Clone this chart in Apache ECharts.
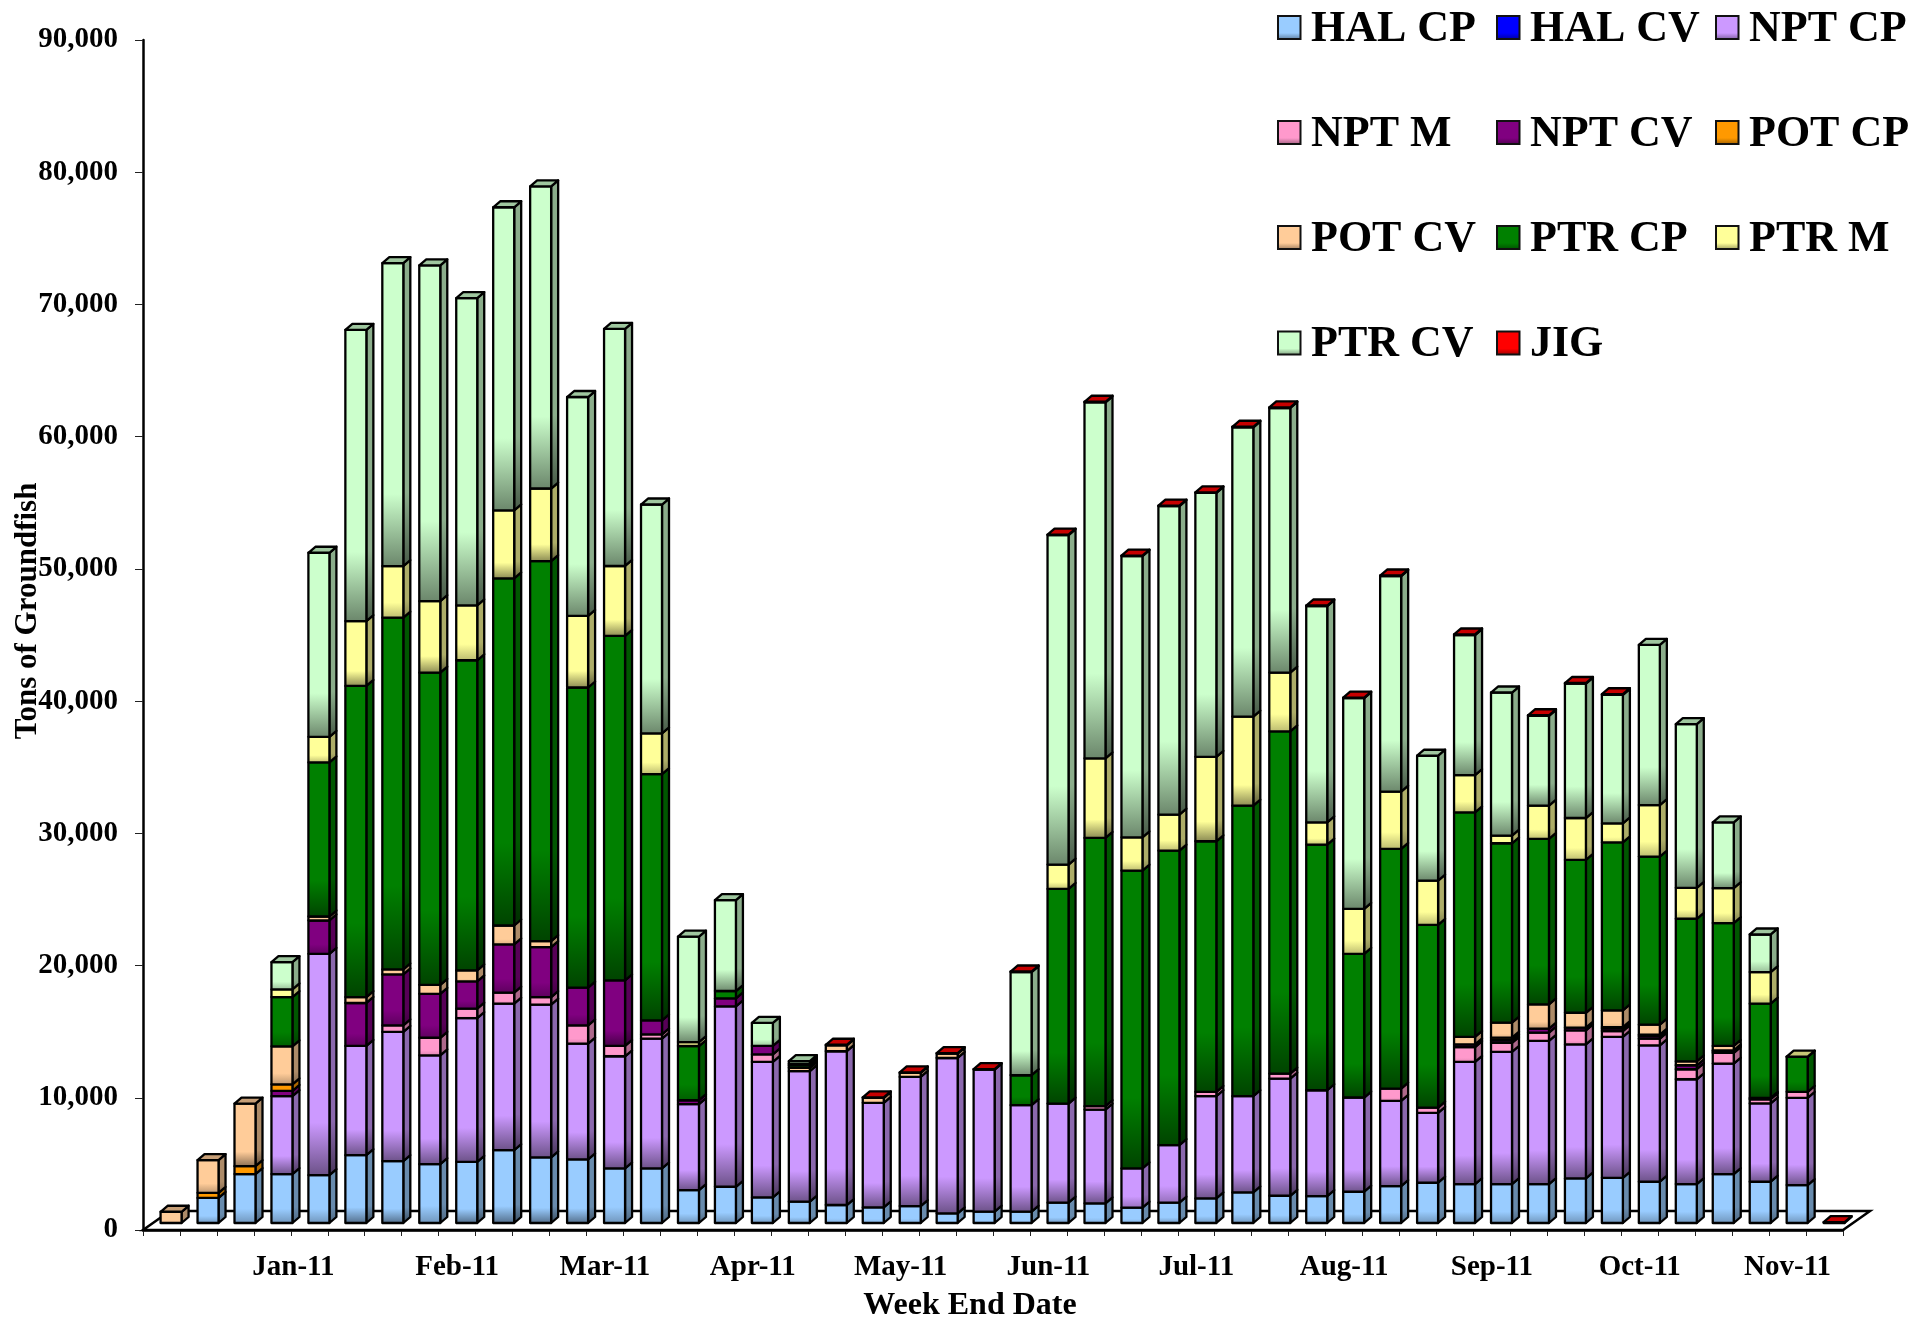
<!DOCTYPE html>
<html>
<head>
<meta charset="utf-8">
<style>html,body{margin:0;padding:0;background:#fff}#c{width:1930px;height:1317px}</style>
<script src="https://cdn.jsdelivr.net/npm/echarts@6/dist/echarts.min.js"></script>
</head>
<body>
<div id="c"></div>
<script>
var weekLabels = ['','','','Jan-11','','','','','Feb-11','','','','Mar-11','','','','Apr-11','','','','May-11','','','','Jun-11','','','','Jul-11','','','','Aug-11','','','','Sep-11','','','','Oct-11','','','','Nov-11',''];
var yTicks = [0,10000,20000,30000,40000,50000,60000,70000,80000,90000];
var HAL_CP = [0,1900,3700,3700,3620,5130,4680,4450,4630,5510,4960,4810,4130,4130,2490,2740,1940,1610,1360,1180,1280,730,860,860,1535,1485,1160,1535,1860,2315,2060,2040,2365,2790,3045,2945,2945,2945,3370,3420,3120,2945,3700,3120,2870,0];
var HAL_CV = [0,0,0,0,0,0,0,0,0,0,0,0,0,0,0,0,0,0,0,0,0,0,0,0,0,0,0,0,0,0,0,0,0,0,0,0,0,0,0,0,0,0,0,0,0,0];
var NPT_CP = [0,0,0,5890,16740,8260,9770,8230,10870,11080,11550,8760,8480,9810,6495,13645,10240,9870,11630,7910,9770,11750,10740,8050,7500,7095,2970,4355,7730,7275,8860,8000,7125,6450,5285,9235,9995,10825,10145,10650,10320,7925,8360,5920,6595,0];
var NPT_M = [0,0,0,0,0,0,500,1330,710,830,580,1380,780,330,0,0,580,0,0,0,0,0,0,0,0,255,0,0,330,0,380,0,0,930,400,1130,680,630,1055,450,500,760,800,320,455,0];
var NPT_CV = [0,0,0,400,2520,3250,3850,3320,2060,3650,3780,2850,4960,1060,300,600,630,0,0,0,0,0,0,0,0,0,0,0,0,0,0,0,0,0,0,200,200,300,200,200,200,300,100,100,0,0];
var POT_CP = [0,380,600,500,0,0,0,0,0,0,0,0,0,0,0,0,0,0,0,0,0,0,0,0,0,0,0,0,0,0,0,0,0,0,0,0,200,0,0,100,100,0,100,0,0,0];
var POT_CV = [850,2480,4730,2870,300,450,380,680,830,1430,450,0,0,0,0,0,0,260,450,375,300,330,0,0,0,0,0,0,0,0,0,0,0,0,0,560,1130,1840,1130,1260,760,300,330,0,0,0];
var PTR_CP = [0,0,0,3725,11650,23530,26600,23610,23460,26250,28740,22700,26050,18620,4100,560,0,200,0,0,0,0,0,2265,16230,20285,22520,22270,18950,21970,25880,18580,10870,18120,13820,16990,13570,12510,11560,12710,12710,10780,9290,7130,2640,0];
var PTR_M = [0,0,0,580,1940,4900,3900,5410,4155,5140,5490,5410,5290,3075,300,0,0,100,0,0,0,0,0,0,1840,6020,2520,2720,6390,6740,4450,1680,3400,4330,3350,2820,580,2510,3170,1440,3900,2340,2640,2390,30,0];
var PTR_CV = [0,0,0,2060,13920,22030,22920,25400,23235,22930,22850,16560,17940,17315,7980,6880,1740,200,0,0,0,0,0,7805,24920,26930,21270,23330,19960,21880,20010,16360,15930,16310,9440,10590,10820,6800,10170,9720,12110,12380,4980,2840,0,0];
var JIG = [0,0,0,0,0,0,0,0,0,0,0,0,0,0,0,0,0,0,40,40,40,40,40,40,40,40,40,40,40,40,40,40,40,40,0,40,0,40,40,40,0,0,0,0,0,60];
var seriesNames = ['HAL CP','HAL CV','NPT CP','NPT M','NPT CV','POT CP','POT CV','PTR CP','PTR M','PTR CV','JIG'];
var seriesValues = [HAL_CP,HAL_CV,NPT_CP,NPT_M,NPT_CV,POT_CP,POT_CV,PTR_CP,PTR_M,PTR_CV,JIG];
var seriesColors = ['#99CCFF','#0000FF','#CC99FF','#FF99CC','#800080','#FF9900','#FFCC99','#008000','#FFFF99','#CCFFCC','#FF0000'];

var FONT = '"Liberation Serif","Times New Roman",serif';
var DX = 7, DY = 6, OX = 9.6, OY = 7, BW = 21, LW = 2.3;

function shade(hex, f) {
  var n = parseInt(hex.slice(1), 16);
  var r = Math.round(((n >> 16) & 255) * f), g = Math.round(((n >> 8) & 255) * f), b = Math.round((n & 255) * f);
  return 'rgb(' + r + ',' + g + ',' + b + ')';
}
function grad(hex, base, h) {
  var dark = h > 60 ? 0.52 : (h > 20 ? 0.72 : 0.85);
  var s = h > 60 ? 0.76 : 0.7;
  return new echarts.graphic.LinearGradient(0, 0, 0, 1, [
    {offset: 0, color: shade(hex, base)},
    {offset: s, color: shade(hex, base)},
    {offset: 1, color: shade(hex, base * dark)}
  ]);
}

function isTopmost(si, i) {
  for (var k = si + 1; k < seriesValues.length; k++) if (seriesValues[k][i] > 0) return false;
  return true;
}

function makeRender(si) {
  var hex = seriesColors[si];
  return function (params, api) {
    var i = api.value(0);
    var c0 = api.coord([i, api.value(1)]);
    var c1 = api.coord([i, api.value(2)]);
    var x = c0[0] + OX - BW / 2, yb = c0[1] - OY, yt = c1[1] - OY;
    var h = yb - yt;
    var line = {stroke: '#000', lineWidth: LW, lineJoin: 'round'};
    var kids = [
      {type: 'polygon', shape: {points: [[x + BW, yb], [x + BW + DX, yb - DY], [x + BW + DX, yt - DY], [x + BW, yt]]},
       style: Object.assign({fill: grad(hex, 0.68, h)}, line)},
      {type: 'rect', shape: {x: x, y: yt, width: BW, height: h},
       style: Object.assign({fill: grad(hex, 1, h)}, line)}
    ];
    if (isTopmost(si, i)) {
      kids.push({type: 'polygon', shape: {points: [[x, yt], [x + DX, yt - DY], [x + BW + DX, yt - DY], [x + BW, yt]]},
        style: Object.assign({fill: shade(hex, 0.78)}, line)});
    }
    return {type: 'group', children: kids};
  };
}

var series = [{
  type: 'custom', name: 'floor', silent: true, clip: false, z: 1,
  data: [[0]],
  encode: {x: 0},
  renderItem: function (params, api) {
    var g = params.coordSys, L = g.x, R = g.x + g.width, B = g.y + g.height;
    return {type: 'polygon', shape: {points: [[L, B], [R, B], [R + 27, B - 19], [L + 27, B - 19]]},
      style: {fill: '#fff', stroke: '#000', lineWidth: 2.5}};
  }
}];
var running = weekLabels.map(function () { return 0; });
seriesValues.forEach(function (vals, si) {
  var data = [];
  vals.forEach(function (v, i) {
    if (v > 0) { data.push([i, running[i], running[i] + v]); running[i] += v; }
  });
  series.push({
    type: 'custom', name: seriesNames[si], clip: false, z: 3,
    encode: {x: 0, y: [1, 2]},
    data: data,
    renderItem: makeRender(si)
  });
});

var legendEls = [];
var colX = [1278, 1497, 1716], rowY = [27.5, 132.5, 237.5, 343];
seriesNames.forEach(function (name, k) {
  var cx = colX[k % 3], cy = rowY[Math.floor(k / 3)], hex = seriesColors[k];
  legendEls.push({type: 'rect', shape: {x: cx, y: cy - 11.5, width: 22.5, height: 23},
    style: {fill: new echarts.graphic.LinearGradient(0, 0, 0, 1, [
      {offset: 0, color: hex}, {offset: 0.72, color: hex}, {offset: 1, color: shade(hex, 0.6)}]),
      stroke: '#111', lineWidth: 2}});
  legendEls.push({type: 'text', x: cx + 33, y: cy + 2,
    style: {text: name, fill: '#000', font: 'bold 44px ' + FONT, textVerticalAlign: 'middle', textAlign: 'left'}});
});

var chart = echarts.init(document.getElementById('c'), null, {renderer: 'canvas'});
chart.setOption({
  animation: false,
  backgroundColor: '#fff',
  grid: {left: 143, top: 40, width: 1700, height: 1190, containLabel: false, outerBoundsMode: 'none'},
  xAxis: {
    type: 'category', data: weekLabels, boundaryGap: true,
    name: 'Week End Date', nameLocation: 'middle', nameGap: 60,
    nameTextStyle: {color: '#000', fontFamily: FONT, fontWeight: 'bold', fontSize: 32, padding: [0, 46, 0, 0]},
    axisLine: {show: true, onZero: false, lineStyle: {color: '#000', width: 2.5}},
    axisTick: {show: true, length: 6, interval: 0, lineStyle: {color: '#222', width: 1}},
    axisLabel: {show: true, interval: 0, margin: 23, color: '#000', fontFamily: FONT, fontWeight: 'bold', fontSize: 29, hideOverlap: false,
      formatter: function (v) { return v === 'Jan-11' ? '{j|' + v + '}' : v; },
      rich: {j: {color: '#000', fontFamily: FONT, fontWeight: 'bold', fontSize: 29, padding: [0, 0, 0, 42]}}},
    splitLine: {show: false}
  },
  yAxis: {
    type: 'value', min: yTicks[0], max: yTicks[yTicks.length - 1], interval: yTicks[1] - yTicks[0],
    name: 'Tons of Groundfish', nameLocation: 'middle', nameGap: 100, nameRotate: 90, nameMoveOverlap: false,
    nameTextStyle: {color: '#000', fontFamily: FONT, fontWeight: 'bold', fontSize: 31, padding: [0, 0, 0, 48]},
    axisLine: {show: true, lineStyle: {color: '#000', width: 2.5}},
    axisTick: {show: true, length: 8, lineStyle: {color: '#222', width: 1}},
    axisLabel: {margin: 25, color: '#000', fontFamily: FONT, fontWeight: 'bold', fontSize: 29, padding: [3, 0, 0, 0],
      formatter: function (v) { return String(v).replace(/\B(?=(\d{3})+$)/g, ','); }},
    splitLine: {show: false}
  },
  series: series,
  graphic: {elements: legendEls}
});
</script>
</body>
</html>
